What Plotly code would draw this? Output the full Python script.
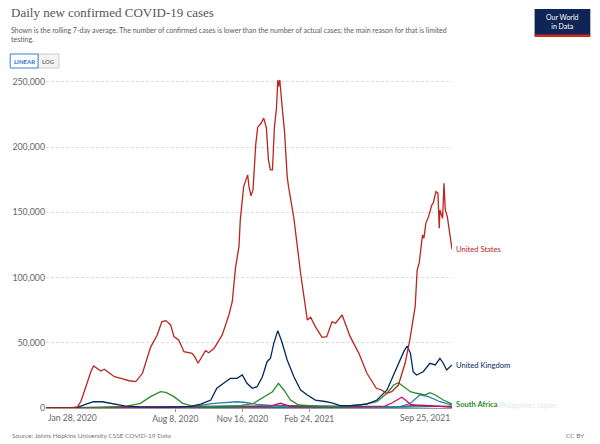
import plotly.graph_objects as go

# --- data ---
us_dates = ["2020-01-28", "2020-03-05", "2020-03-15", "2020-03-20", "2020-03-28", "2020-04-04", "2020-04-08",
            "2020-04-19", "2020-04-24", "2020-05-09", "2020-05-19", "2020-05-31", "2020-06-10", "2020-06-20",
            "2020-07-02", "2020-07-12", "2020-07-19", "2020-07-25", "2020-08-01", "2020-08-06", "2020-08-13",
            "2020-08-21", "2020-09-02", "2020-09-06", "2020-09-11", "2020-09-17", "2020-09-22", "2020-09-27",
            "2020-10-05", "2020-10-17", "2020-10-27", "2020-11-01", "2020-11-06", "2020-11-11", "2020-11-13",
            "2020-11-18", "2020-11-24", "2020-11-26", "2020-11-29", "2020-12-02", "2020-12-06", "2020-12-09",
            "2020-12-14", "2020-12-18", "2020-12-22", "2020-12-25", "2020-12-28", "2020-12-31", "2021-01-03",
            "2021-01-06", "2021-01-08", "2021-01-09", "2021-01-11", "2021-01-14", "2021-01-18", "2021-01-22",
            "2021-01-24", "2021-02-01", "2021-02-08", "2021-02-11", "2021-02-21", "2021-02-26", "2021-03-05",
            "2021-03-15", "2021-03-22", "2021-03-30", "2021-04-04", "2021-04-14", "2021-04-26", "2021-05-09",
            "2021-05-21", "2021-06-04", "2021-06-12", "2021-06-19", "2021-06-27", "2021-07-07", "2021-07-17",
            "2021-07-24", "2021-08-01", "2021-08-04", "2021-08-07", "2021-08-12", "2021-08-14", "2021-08-17",
            "2021-08-21", "2021-08-26", "2021-08-28", "2021-09-01", "2021-09-04", "2021-09-06", "2021-09-07",
            "2021-09-10", "2021-09-11", "2021-09-13", "2021-09-15", "2021-09-18", "2021-09-21", "2021-09-25"]
us_cases = [0, 200, 900, 5000, 17000, 28000, 32200,
            28400, 29700, 24000, 22700, 20900, 20200, 26600,
            46500, 56000, 66200, 67000, 63700, 54700, 52100,
            43200, 41900, 39400, 34300, 39400, 44000, 42400,
            45800, 56000, 71300, 81500, 108000, 123700, 144200,
            169700, 178700, 169700, 162600, 167200, 201700, 215300,
            218300, 222200, 214500, 190200, 182500, 182500, 215700,
            229800, 251500, 246400, 251500, 233700, 211900, 177400,
            169700, 145500, 113500, 103300, 67500, 69600, 62400,
            54200, 54700, 66200, 65000, 71300, 54700, 41900,
            26600, 15100, 13800, 11300, 12500, 17600, 34300,
            52100, 77700, 105800, 111000, 132700, 130100, 141600,
            146700, 155700, 157000, 165900, 164700, 137800, 151800,
            146700, 145500, 172300, 151800, 146700, 134000, 121700]

uk_dates = ["2020-01-28", "2020-03-10", "2020-03-15", "2020-03-28", "2020-04-08", "2020-04-21", "2020-05-04",
            "2020-05-26", "2020-06-17", "2020-08-01", "2020-08-31", "2020-09-15", "2020-09-30", "2020-10-09",
            "2020-10-19", "2020-10-29", "2020-11-08", "2020-11-16", "2020-11-23", "2020-12-01", "2020-12-08",
            "2020-12-16", "2020-12-23", "2020-12-28", "2021-01-02", "2021-01-08", "2021-01-14", "2021-01-22",
            "2021-02-01", "2021-02-08", "2021-02-11", "2021-02-21", "2021-03-05", "2021-03-22", "2021-04-01",
            "2021-04-11", "2021-04-26", "2021-05-21", "2021-06-05", "2021-06-20", "2021-07-05", "2021-07-15",
            "2021-07-20", "2021-07-25", "2021-07-29", "2021-08-03", "2021-08-13", "2021-08-23", "2021-08-31",
            "2021-09-07", "2021-09-12", "2021-09-17", "2021-09-25"]
uk_cases = [0, 50, 500, 3000, 4800, 4800, 3600,
            1500, 900, 700, 1300, 3000, 6100, 15100,
            18900, 22700, 22700, 25300, 18900, 15100, 16300,
            24000, 35500, 38100, 49600, 59300, 50800, 36800,
            24000, 16300, 13800, 10000, 6100, 4800, 3600,
            1800, 1800, 3000, 6100, 13800, 31700, 43200,
            47500, 41900, 27800, 25300, 27800, 34300, 33000,
            38100, 34300, 29100, 33000]

za_dates = ["2020-01-28", "2020-04-15", "2020-05-28", "2020-06-17", "2020-07-02", "2020-07-17", "2020-07-25",
            "2020-08-06", "2020-08-19", "2020-08-31", "2020-09-30", "2020-11-13", "2020-12-03", "2020-12-18",
            "2020-12-31", "2021-01-09", "2021-01-17", "2021-01-27", "2021-02-08", "2021-03-12", "2021-04-11",
            "2021-05-11", "2021-06-05", "2021-06-20", "2021-06-30", "2021-07-07", "2021-07-15", "2021-07-25",
            "2021-08-03", "2021-08-16", "2021-08-23", "2021-08-31", "2021-09-12", "2021-09-25"]
za_cases = [0, 200, 1500, 3600, 8700, 12500, 12000,
            8700, 3600, 1800, 1300, 1800, 3600, 8700,
            12500, 18900, 13800, 6100, 2300, 1200, 1200,
            2300, 4800, 11300, 17600, 19400, 16300, 12500,
            11300, 10000, 11700, 10000, 6100, 3000]

jp_dates = ["2020-01-28", "2020-04-10", "2020-06-01", "2020-08-31", "2020-10-05", "2020-11-08", "2020-11-18",
            "2020-12-08", "2021-01-12", "2021-03-27", "2021-06-10", "2021-07-10", "2021-07-25", "2021-08-08",
            "2021-08-21", "2021-09-07", "2021-09-25"]
jp_cases = [0, 500, 300, 1000, 3600, 4800, 4400,
            2800, 1500, 1000, 800, 1000, 3600, 10000,
            8700, 4800, 2200]

ph_dates = ["2020-01-28", "2020-05-01", "2020-09-01", "2020-12-28", "2021-01-12", "2021-01-27", "2021-04-01",
            "2021-06-17", "2021-06-28", "2021-07-12", "2021-07-18", "2021-07-25", "2021-08-08", "2021-09-25"]
ph_cases = [0, 300, 600, 1500, 3600, 1200, 800,
            1500, 4000, 8200, 6000, 2800, 1800, 800]

pe_dates = ["2020-01-28", "2020-05-01", "2020-08-15", "2020-11-01", "2021-01-20", "2021-04-15", "2021-07-01",
            "2021-08-10", "2021-08-25", "2021-09-25"]
pe_cases = [0, 600, 900, 700, 1800, 1200, 900, 2200, 1800, 700]

au_dates = ["2020-01-28", "2020-06-01", "2020-12-01", "2021-04-01", "2021-07-15", "2021-09-25"]
au_cases = [0, 300, 500, 400, 700, 1500]

series = [
    ("Peru", pe_dates, pe_cases, "#883039"),
    ("Australia", au_dates, au_cases, "#00847E"),
    ("Japan", jp_dates, jp_cases, "#2C7FB8"),
    ("Philippines", ph_dates, ph_cases, "#CF0A66"),
    ("South Africa", za_dates, za_cases, "#2A8B2A"),
    ("United Kingdom", uk_dates, uk_cases, "#00295B"),
    ("United States", us_dates, us_cases, "#B8261C"),
]

x_ticks = ["2020-08-08", "2020-11-16", "2021-02-24"]
x_ticktext = ["Aug 8, 2020", "Nov 16, 2020", "Feb 24, 2021"]
x_start, x_end = "2020-01-28", "2021-09-25"
y_ticks = [0, 50000, 100000, 150000, 200000, 250000]

# plot area in pixels
L, R, T, B = 44, 452, 78, 408
W, H = 600, 444


def px(x):
    return (x - L) / (R - L)


def py(y):
    return (B - y) / (B - T)


GREY = "#666666"
FONT = "Lato"

fig = go.Figure()
for name, d, v, c in series:
    fig.add_trace(go.Scatter(x=d, y=v, mode="lines", name=name,
                             line=dict(color=c, width=1.3), hoverinfo="x+y+name"))

annotations = []
# end-of-line labels
for name, d, v, c in series:
    if name in ("United States", "United Kingdom"):
        annotations.append(dict(x=d[-1], y=v[-1], xref="x", yref="y", text=name, showarrow=False,
                                xanchor="left", yanchor="middle", xshift=2,
                                font=dict(family=FONT, size=7.6, color=c)))
annotations.append(dict(x=x_end, y=za_cases[-1], xref="x", yref="y", text="<b>South Africa</b>", showarrow=False,
                        xanchor="left", yanchor="middle", xshift=2,
                        font=dict(family=FONT, size=7.6, color="#2A8B2A")))
annotations.append(dict(x=px(497), y=py(405), xref="paper", yref="paper", text="Philippines Japan",
                        showarrow=False, xanchor="left", yanchor="middle",
                        font=dict(family=FONT, size=7.6, color="#e2eae2")))

# first / last x tick labels aligned to the axis ends
annotations.append(dict(x=x_start, y=0, xref="x", yref="paper", text="Jan 28, 2020", showarrow=False,
                        xanchor="left", yanchor="top", yshift=-3, font=dict(family=FONT, size=8.6, color=GREY)))
annotations.append(dict(x=x_end, y=0, xref="x", yref="paper", text="Sep 25, 2021", showarrow=False,
                        xanchor="right", yanchor="top", yshift=-3, font=dict(family=FONT, size=8.6, color=GREY)))

# header
annotations.append(dict(x=px(7), y=py(13), xref="paper", yref="paper", text="Daily new confirmed COVID-19 cases",
                        showarrow=False, xanchor="left", yanchor="middle",
                        font=dict(family="Liberation Serif", size=13, color="#555555")))
annotations.append(dict(x=px(7), y=py(35), xref="paper", yref="paper",
                        text="Shown is the rolling 7-day average. The number of confirmed cases is lower than the number of actual cases; the main reason for that is limited<br>testing.",
                        showarrow=False, xanchor="left", yanchor="middle", align="left",
                        font=dict(family=FONT, size=7, color="#5b5b5b")))
annotations.append(dict(x=px(22), y=py(61), xref="paper", yref="paper", text="<b>LINEAR</b>", showarrow=False,
                        xanchor="center", yanchor="middle", font=dict(family=FONT, size=6, color="#2f6fcf")))
annotations.append(dict(x=px(46.5), y=py(61), xref="paper", yref="paper", text="<b>LOG</b>", showarrow=False,
                        xanchor="center", yanchor="middle", font=dict(family=FONT, size=6, color="#777777")))
annotations.append(dict(x=px(563), y=py(21), xref="paper", yref="paper", text="Our World<br>in Data",
                        showarrow=False, xanchor="center", yanchor="middle",
                        font=dict(family=FONT, size=7, color="white")))

# footer
annotations.append(dict(x=px(8), y=py(435), xref="paper", yref="paper",
                        text="Source: Johns Hopkins University CSSE COVID-19 Data", showarrow=False,
                        xanchor="left", yanchor="middle", font=dict(family=FONT, size=6.5, color="#777777")))
annotations.append(dict(x=px(588), y=py(435), xref="paper", yref="paper", text="CC BY", showarrow=False,
                        xanchor="right", yanchor="middle", font=dict(family=FONT, size=6.5, color="#777777")))

shapes = [
    # LINEAR / LOG toggle
    dict(type="rect", xref="paper", yref="paper", x0=px(36), x1=px(57), y0=py(68), y1=py(54),
         line=dict(color="#cccccc", width=1), fillcolor="#f3f3f3", layer="below"),
    dict(type="rect", xref="paper", yref="paper", x0=px(8), x1=px(36), y0=py(68), y1=py(54),
         line=dict(color="#3f7fd6", width=1), fillcolor="white", layer="below"),
    # logo
    dict(type="rect", xref="paper", yref="paper", x0=px(535), x1=px(591), y0=py(36), y1=py(9),
         line=dict(width=0), fillcolor="#0f2555", layer="below"),
    dict(type="rect", xref="paper", yref="paper", x0=px(535), x1=px(591), y0=py(37), y1=py(34.5),
         line=dict(width=0), fillcolor="#d42b21", layer="below"),
]

fig.update_layout(
    width=W, height=H,
    margin=dict(l=L, r=W - R, t=T, b=H - B),
    paper_bgcolor="white", plot_bgcolor="white",
    showlegend=False,
    annotations=annotations,
    shapes=shapes,
    font=dict(family=FONT, color=GREY),
    xaxis=dict(type="date", range=[x_start, x_end], tickvals=x_ticks, ticktext=x_ticktext,
               showgrid=False, showline=True, linecolor="#999999", linewidth=1,
               ticks="outside", ticklen=3, tickcolor="#999999",
               tickfont=dict(family=FONT, size=8.6, color=GREY), zeroline=False),
    yaxis=dict(range=[0, 253000], tickvals=y_ticks, tickformat=",", showgrid=True,
               gridcolor="#dcdcdc", griddash="3px,2px", gridwidth=1, zeroline=False,
               tickfont=dict(family=FONT, size=8.8, color=GREY), ticks="", showline=False),
)

# drop the page's default body margin so the figure sits at the window's top-left corner
fig.write_html("out.html", config={"displayModeBar": False},
               post_script="document.body.style.margin='0';document.body.style.overflow='hidden';")
